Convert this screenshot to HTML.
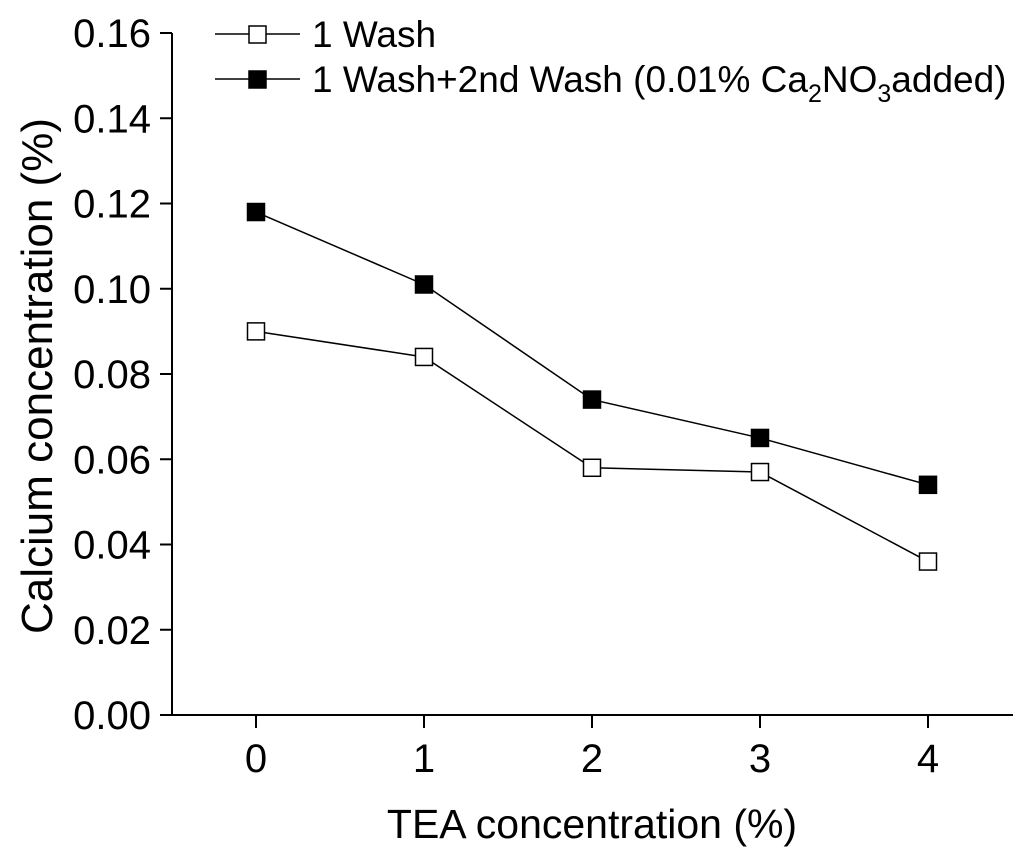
<!DOCTYPE html>
<html><head><meta charset="utf-8"><style>
html,body{margin:0;padding:0;background:#fff;}
svg text{font-family:"Liberation Sans",Arial,sans-serif;fill:#000;}
</style></head><body>
<svg id="chart" width="1024" height="855" viewBox="0 0 1024 855" xmlns="http://www.w3.org/2000/svg">
<g id="axes"></g>
<g id="series"></g>
<g>
  <line x1="215" y1="34" x2="300" y2="34" stroke="#000" stroke-width="1.5"/>
  <rect x="249" y="26" width="17" height="17" fill="#fff" stroke="#000" stroke-width="1.5"/>
  <text x="312" y="47" font-size="37">1 Wash</text>
  <line x1="215" y1="79" x2="300" y2="79" stroke="#000" stroke-width="1.5"/>
  <rect x="249" y="71" width="17" height="17" fill="#000" stroke="#000" stroke-width="1.5"/>
  <text x="312" y="92" font-size="37">1 Wash+2nd Wash (0.01% Ca<tspan font-size="25" dy="10">2</tspan><tspan dy="-10">NO</tspan><tspan font-size="25" dy="10">3</tspan><tspan dy="-10">added)</tspan></text>
</g>
<text x="592" y="838" font-size="41" text-anchor="middle">TEA concentration (%)</text>
<text transform="translate(52,376) rotate(-90)" font-size="44" text-anchor="middle">Calcium concentration (%)</text>
</svg>
<script>
const categories=[0,1,2,3,4];
const wash1=[0.090,0.084,0.058,0.057,0.036];
const wash2=[0.118,0.101,0.074,0.065,0.054];
const yTicks=[0,0.02,0.04,0.06,0.08,0.10,0.12,0.14,0.16];
const yTickLabels=["0.00","0.02","0.04","0.06","0.08","0.10","0.12","0.14","0.16"];
const xTickLabels=["0","1","2","3","4"];
const NS="http://www.w3.org/2000/svg";
function xs(v){return 256+v*168;}
function ys(v){return 715-v*(682/0.16);}
function mk(tag,attrs,parent){const e=document.createElementNS(NS,tag);for(const k in attrs)e.setAttribute(k,attrs[k]);parent.appendChild(e);return e;}
const axes=document.getElementById('axes');
let a=mk('line',{x1:172,y1:33,x2:172,y2:715,stroke:'#000','stroke-width':2},axes);


a=mk('line',{x1:160,y1:715,x2:1013,y2:715,stroke:'#000','stroke-width':2},axes);


yTicks.forEach((t,i)=>{
  const y=ys(t);
  const l=mk('line',{x1:160,y1:y,x2:172,y2:y,stroke:'#000','stroke-width':2},axes);
  
  
  const tx=mk('text',{x:151,y:y+14,'font-size':40,'text-anchor':'end'},axes);
  tx.textContent=yTickLabels[i];
  
  
});
categories.forEach((c,i)=>{
  const x=xs(c);
  const l=mk('line',{x1:x,y1:715,x2:x,y2:728,stroke:'#000','stroke-width':2},axes);
  
  
  const tx=mk('text',{x:x,y:772,'font-size':40,'text-anchor':'middle'},axes);
  tx.textContent=xTickLabels[i];
  
  
});
const series=document.getElementById('series');
function draw(vals,fill,name){
  const pl=mk('polyline',{points:vals.map((v,i)=>xs(categories[i])+','+ys(v)).join(' '),fill:'none',stroke:'#000','stroke-width':1.5},series);
  
  
  vals.forEach((v,i)=>{
    const r=mk('rect',{x:xs(categories[i])-8.5,y:ys(v)-8.5,width:17,height:17,fill:fill,stroke:'#000','stroke-width':1.5},series);
    
    
  });
}
draw(wash1,'#fff','wash1');
draw(wash2,'#000','wash2');
</script>
</body></html>
